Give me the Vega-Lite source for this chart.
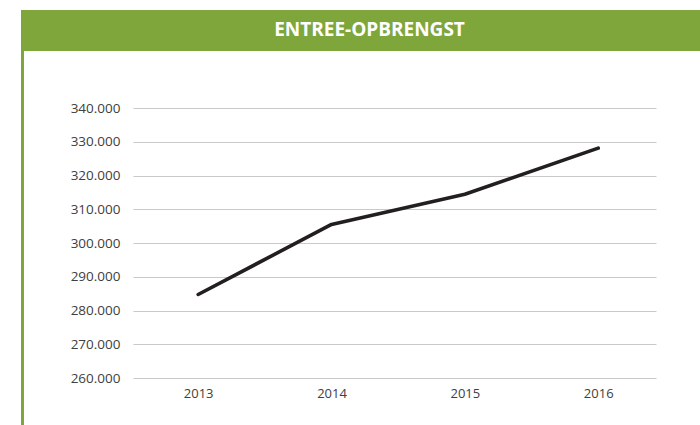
{
  "$schema": "https://vega.github.io/schema/vega-lite/v6.json",
  "padding": {"left": 21, "top": 10, "right": 0, "bottom": 0},
  "background": "white",
  "spacing": 0,
  "bounds": "flush",
  "config": {"view": {"stroke": null}, "font": "Open Sans"},
  "vconcat": [
    {
      "width": 679,
      "height": 41,
      "view": {"fill": "#7fa63b", "stroke": null},
      "data": {"values": [{"label": "ENTREE-OPBRENGST"}]},
      "mark": {"type": "text", "color": "white", "fontSize": 19, "fontWeight": "bold", "dx": 9, "dy": -1, "baseline": "middle", "font": "Open Sans"},
      "encoding": {"text": {"field": "label"}}
    },
    {
      "hconcat": [
        {
          "width": 3,
          "height": 374,
          "view": {"fill": "#7fa63b", "stroke": null},
          "data": {"values": []},
          "mark": "text",
          "encoding": {}
        },
        {
          "width": 523,
          "height": 327,
          "data": {"values": [
            {"year": "2013", "value": 284750},
            {"year": "2014", "value": 305500},
            {"year": "2015", "value": 314450},
            {"year": "2016", "value": 328100}
          ]},
          "mark": {"type": "line", "color": "#231f20", "strokeWidth": 3.6, "strokeCap": "round", "strokeJoin": "round"},
          "encoding": {
            "x": {
              "field": "year", "type": "ordinal",
              "scale": {"type": "point", "padding": 0.461, "align": 0.53},
              "axis": {"title": null, "labelAngle": 0, "ticks": false, "domain": false, "labelPadding": 9, "labelFontSize": 13, "labelColor": "#404040", "labelFont": "Open Sans"}
            },
            "y": {
              "field": "value", "type": "quantitative",
              "scale": {"domain": [260000, 356890], "nice": false, "zero": false},
              "axis": {
                "title": null,
                "values": [260000, 270000, 280000, 290000, 300000, 310000, 320000, 330000, 340000],
                "grid": true, "gridColor": "#c9c9c9", "gridWidth": 1,
                "domain": false, "ticks": false, "labelPadding": 13,
                "labelFontSize": 13.5, "labelColor": "#404040", "labelFont": "Open Sans",
                "labelExpr": "replace(format(datum.value, ',d'), ',', '.')"
              }
            }
          }
        }
      ],
      "spacing": 109,
      "bounds": "flush"
    }
  ]
}
